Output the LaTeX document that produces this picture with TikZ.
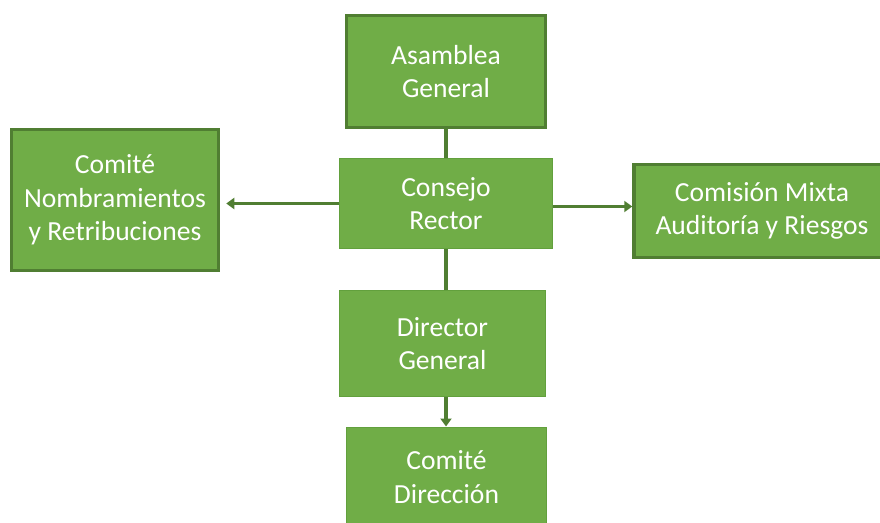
\documentclass[tikz,border=0pt]{standalone}
\usepackage{fontspec}
\setmainfont{Carlito}
\usepackage{tikz}
\usetikzlibrary{arrows.meta}
\usetikzlibrary{positioning}
\definecolor{boxfill}{HTML}{70AD47}
\definecolor{boxline}{HTML}{507E32}
\definecolor{boxthin}{HTML}{62A03D}
\tikzset{
  orgbox/.style = {fill = boxfill, draw = boxthin, line width = 1pt, inner sep = 0,
                   text = white, align = center, font = \fontsize{27.6}{33.5}\selectfont},
  orgboxheavy/.style = {orgbox, draw = boxline, line width = 3.5pt},
  link/.style = {draw = boxline, line width = 3.2pt},
  linkarrow/.style = {link, -{Triangle[length = 8pt, width = 11pt]}}
}

\begin{document}
\begin{tikzpicture}[x = 1pt, y = 1pt]
      \useasboundingbox (0, 0) rectangle (880, -522);
      % boxes of the chart
      \node [orgboxheavy, minimum width = 199, minimum height = 112] (asamblea) at (446, -71.5) {Asamblea\\General};
      \node [orgbox, minimum width = 213, minimum height = 90] (consejo) at (446, -203.5) {Consejo\\Rector};
      \node [orgbox, minimum width = 206, minimum height = 106] (director) at (442.5, -343.5) {Director\\General};
      \node [orgbox, minimum width = 200, minimum height = 100] (direccion) at (446.5, -477) {Comité\\Dirección};
      \node [orgboxheavy, minimum width = 207, minimum height = 141] (nombramientos) at (115, -200) {Comité\\Nombramientos\\y Retribuciones};
      \node [orgboxheavy, minimum width = 256, minimum height = 93] (mixta) at (762, -211) {Comisión Mixta\\Auditoría y Riesgos};
      % connectors
      \draw [link] (asamblea.south) -- (consejo.north);
      \draw [link] (consejo.south) -- (consejo.south |- director.north);
      \draw [linkarrow] (consejo.south |- director.south) -- (consejo.south |- direccion.north);
      \draw [linkarrow, shorten > = 6pt] (consejo.west) -- (consejo.west -| nombramientos.east);
      \draw [linkarrow] ([yshift = -3pt]consejo.east) -- ([yshift = -3pt]consejo.east -| mixta.west);
    \end{tikzpicture}
\end{document}
